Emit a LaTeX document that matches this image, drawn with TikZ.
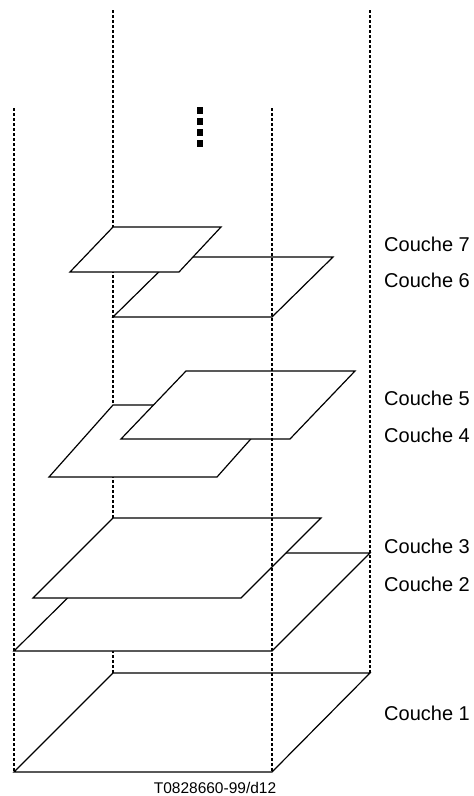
\documentclass[tikz,border=0pt]{standalone}
\usepackage{fontspec}
\setmainfont{Liberation Sans}
\begin{document}
\begin{tikzpicture}[x=1pt,y=-1pt,
  guide/.style={line width=2pt,dash pattern=on 2.9pt off 2.1pt},
  plane/.style={draw=black,fill=white,line width=1.2pt,line join=miter},
  lab/.style={anchor=west,inner sep=0pt,font=\fontsize{20}{24}\selectfont},
  sq/.style={fill=black,minimum size=6.5pt,inner sep=0pt,draw=none}]
\useasboundingbox (0,0) rectangle (474,796);
% back verticals
\coordinate (bl-top) at (113,10);
\coordinate (bl-bot) at (113,673);
\coordinate (br-top) at (370,10);
\coordinate (br-bot) at (370,673);
\draw[guide] (bl-top) -- (bl-bot);
\draw[guide] (br-top) -- (br-bot);
% planes, bottom to top
\draw[plane] (14,772) -- (272,772) -- (370,673) -- (113,673) -- cycle;
\draw[plane] (14,651) -- (272,651) -- (370,553) -- (113,553) -- cycle;
\draw[plane] (33,598) -- (241,598) -- (321,518) -- (113,518) -- cycle;
\draw[plane] (49,477) -- (217,477) -- (281,405) -- (113,405) -- cycle;
\draw[plane] (121,439) -- (290,439) -- (355,371) -- (186,371) -- cycle;
\draw[plane] (113,317) -- (272,317) -- (333,257) -- (174,257) -- cycle;
\draw[plane] (70,272) -- (179,272) -- (221,227) -- (113,227) -- cycle;
% front verticals
\coordinate (fl-top) at (14,108);
\coordinate (fl-bot) at (14,772);
\coordinate (fr-top) at (272,108);
\coordinate (fr-bot) at (272,772);
\draw[guide] (fl-top) -- (fl-bot);
\draw[guide] (fr-top) -- (fr-bot);
% vertical ellipsis
\node[sq] (d1) at (200,110.7) {};
\node[sq] (d2) at (200,121.7) {};
\node[sq] (d3) at (200,132.7) {};
\node[sq] (d4) at (200,143.3) {};
% labels
\node[lab] (c7) at (384,244) {Couche 7};
\node[lab] (c6) at (384,280) {Couche 6};
\node[lab] (c5) at (384,398) {Couche 5};
\node[lab] (c4) at (384,435) {Couche 4};
\node[lab] (c3) at (384,546) {Couche 3};
\node[lab] (c2) at (384,584) {Couche 2};
\node[lab] (c1) at (384,713) {Couche 1};
\node[inner sep=0pt,font=\fontsize{15.5}{18}\selectfont] (ref) at (215,787.5) {T0828660-99/d12};
\end{tikzpicture}
\end{document}
